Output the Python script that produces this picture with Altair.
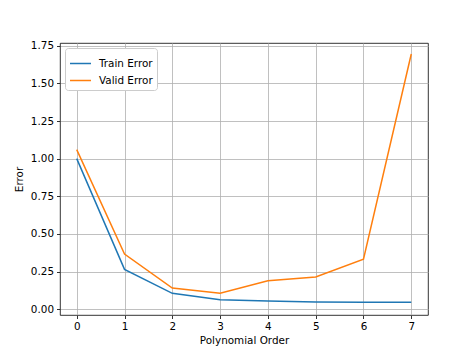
import altair as alt
import pandas as pd

orders = [0, 1, 2, 3, 4, 5, 6, 7]
train_error = [1.00, 0.265, 0.106, 0.064, 0.055, 0.048, 0.047, 0.047]
valid_error = [1.06, 0.367, 0.141, 0.106, 0.19, 0.214, 0.332, 1.695]
series_names = ["Train Error", "Valid Error"]
colors = ["#1f77b4", "#ff7f0e"]
y_ticks = [0.0, 0.25, 0.5, 0.75, 1.0, 1.25, 1.5, 1.75]

rows = []
for o, t, v in zip(orders, train_error, valid_error):
    rows.append({"order": o, "error": t, "series": series_names[0]})
    rows.append({"order": o, "error": v, "series": series_names[1]})
df = pd.DataFrame(rows)

font = "DejaVu Sans"
fs = 10.4

chart = alt.Chart(df).mark_line(strokeWidth=1.5, clip=True).encode(
    x=alt.X("order:Q", title="Polynomial Order",
            scale=alt.Scale(domain=[-0.35, 7.35], nice=False, zero=False),
            axis=alt.Axis(values=orders, format="d")),
    y=alt.Y("error:Q", title="Error",
            scale=alt.Scale(domain=[-0.038, 1.768], nice=False, zero=False),
            axis=alt.Axis(values=y_ticks, format=".2f")),
    color=alt.Color("series:N", title=None,
                    scale=alt.Scale(domain=series_names, range=colors),
                    legend=alt.Legend(orient="none", legendX=5, legendY=5,
                                      symbolType="stroke", symbolSize=440,
                                      symbolStrokeWidth=1.5,
                                      fillColor="white", strokeColor="#cccccc",
                                      cornerRadius=3, padding=4,
                                      labelOffset=7,
                                      labelFont=font, labelFontSize=fs,
                                      labelColor="black", rowPadding=-5)),
).properties(
    width=368, height=272,
    autosize=alt.AutoSizeParams(type="none"),
    padding={"left": 60, "top": 43, "right": 48, "bottom": 39},
).configure_view(
    stroke="black", strokeWidth=0.8
).configure_axis(
    grid=True, gridColor="#b0b0b0", gridWidth=0.8,
    domain=False, tickColor="black", tickSize=3.5, tickWidth=0.8,
    labelFont=font, labelFontSize=fs, labelColor="black", labelPadding=3,
    titleFont=font, titleFontSize=fs, titleColor="black", titleFontWeight="normal",
).configure_axisX(titlePadding=4).configure_axisY(titlePadding=6)

chart.save("out.html", embed_options={"renderer": "svg", "actions": False})
